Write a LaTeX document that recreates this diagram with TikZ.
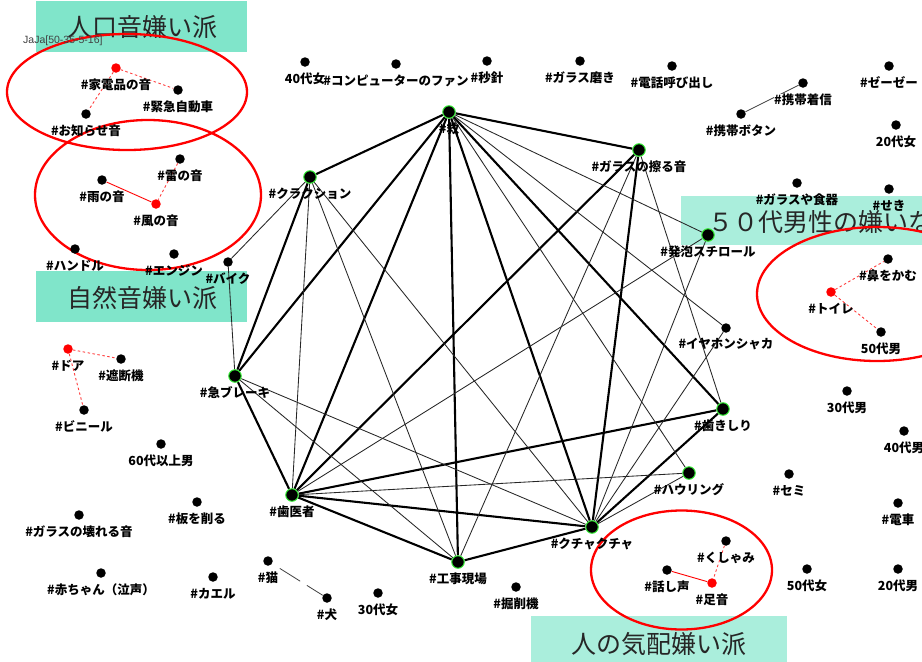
\documentclass[tikz,border=0pt]{standalone}
\usepackage{fontspec}
\setmainfont{Noto Sans CJK JP}
\newfontfamily\latinf{Liberation Sans}
\pgfdeclarelayer{boxes}
\pgfdeclarelayer{edges}
\pgfsetlayers{boxes,edges,main}
\definecolor{tealA}{HTML}{80E5CA}
\definecolor{tealB}{HTML}{AAEEDC}
\definecolor{ringg}{HTML}{33EE33}
\definecolor{dred}{HTML}{FF4040}
\tikzset{
  dot/.style={circle,fill=black,inner sep=0pt,minimum size=9.5pt},
  rdot/.style={dot,fill=red},
  hub/.style={circle,fill=black,draw=ringg,line width=1pt,inner sep=0pt,minimum size=12.5pt},
  lab/.style={inner sep=0pt,font=\fontsize{12.5}{13}\selectfont\bfseries},
  thk/.style={line width=2.1pt,black},
  thn/.style={line width=0.85pt,black!85},
  rdash/.style={dred,line width=0.9pt,dash pattern=on 2.5pt off 2.5pt},
  rsolid/.style={red,line width=0.9pt},
  gline/.style={black!75,line width=0.8pt},
  ell/.style={red,line width=2.3pt},
  bigbox/.style={inner sep=0pt,font=\fontsize{25}{26}\selectfont,text=black!85}
}
\newcommand\mkdot[6][]{\node[#5] (#2) at (#3,#4) {}; \node[lab,#1] (#2l) at (#3,#4+16.5) {#6};}
\begin{document}
\begin{tikzpicture}[x=1pt,y=-1pt]
\useasboundingbox (0,0) rectangle (922,662);
\begin{pgfonlayer}{boxes}
\fill[white] (0,0) rectangle (922,662);
\fill[tealA] (36,1) rectangle (247,52);
\fill[tealA] (36,271) rectangle (247,322);
\fill[tealB] (681,196) rectangle (925,245);
\fill[tealB] (531,616) rectangle (787,665);
\node[bigbox] (t1) at (142,27) {人口音嫌い派};
\node[bigbox] (t2) at (142,298) {自然音嫌い派};
\node[bigbox,anchor=west] (t3) at (708,222) {５０代男性の嫌いな};
\node[bigbox] (t4) at (659,644) {人の気配嫌い派};
\end{pgfonlayer}
\node[inner sep=0pt,anchor=west,text=black!75,font=\latinf\fontsize{10.5}{11}\selectfont] (jaja) at (23,41) {JaJa[50-35-5-16]};
% network hubs
\mkdot{Q}{449}{112}{hub}{\#救}
\mkdot{K}{310}{177}{hub}{\#クラクション}
\mkdot{G}{639}{150}{hub}{\#ガラスの擦る音}
\mkdot{H}{708}{235}{hub}{\#発泡スチロール}
\mkdot{B}{228}{262}{dot}{\#バイク}
\mkdot{I}{726}{328}{dot}{\#イヤホンシャカ}
\mkdot{Y}{235}{376}{hub}{\#急ブレーキ}
\mkdot{S}{723}{409}{hub}{\#歯きしり}
\mkdot{W}{689}{473}{hub}{\#ハウリング}
\mkdot{D}{292}{495}{hub}{\#歯医者}
\mkdot{C}{592}{527}{hub}{\#クチャクチャ}
\mkdot{E}{458}{562}{hub}{\#工事現場}
% other items
\mkdot{kaden}{116}{68}{rdot}{\#家電品の音}
\mkdot{kinkyu}{178}{90}{dot}{\#緊急自動車}
\mkdot{oshirase}{86}{114}{dot}{\#お知らせ音}
\mkdot{kaminari}{180}{159}{dot}{\#雷の音}
\mkdot{ame}{102}{180}{dot}{\#雨の音}
\mkdot{kaze}{156}{204}{rdot}{\#風の音}
\mkdot{handle}{75}{249}{dot}{\#ハンドル}
\mkdot{engine}{174}{254}{dot}{\#エンジン}
\mkdot{door}{68}{349}{rdot}{\#ドア}
\mkdot{shadan}{121}{359}{dot}{\#遮断機}
\mkdot{vinyl}{84}{410}{dot}{\#ビニール}
\mkdot{m60}{161}{444}{dot}{60代以上男}
\mkdot{ita}{197}{502}{dot}{\#板を削る}
\mkdot{garasuk}{79}{515}{dot}{\#ガラスの壊れる音}
\mkdot{baby}{101}{573}{dot}{\#赤ちゃん（泣声）}
\mkdot{kaeru}{213}{577}{dot}{\#カエル}
\mkdot{neko}{268}{561}{dot}{\#猫}
\mkdot{inu}{327}{598}{dot}{\#犬}
\mkdot{f30}{378}{593}{dot}{30代女}
\mkdot{f40}{305}{62}{dot}{40代女}
\mkdot{fan}{396}{64}{dot}{\#コンピューターのファン}
\mkdot{byo}{487}{61}{dot}{\#秒針}
\mkdot{migaki}{580}{61}{dot}{\#ガラス磨き}
\mkdot{denwa}{672}{66}{dot}{\#電話呼び出し}
\mkdot[fill=white]{chakushin}{803}{83}{dot}{\#携帯着信}
\mkdot{button}{741}{114}{dot}{\#携帯ボタン}
\mkdot{zeze}{889}{66}{dot}{\#ゼーゼー}
\mkdot{f20}{896}{125}{dot}{20代女}
\mkdot{shokki}{797}{183}{dot}{\#ガラスや食器}
\mkdot{seki}{889}{189}{dot}{\#せき}
\mkdot{hana}{888}{259}{dot}{\#鼻をかむ}
\mkdot{toilet}{831}{292}{rdot}{\#トイレ}
\mkdot{m50}{881}{332}{dot}{50代男}
\mkdot{m30}{847}{391}{dot}{30代男}
\mkdot{m40}{904}{431}{dot}{40代男}
\mkdot{semi}{789}{474}{dot}{\#セミ}
\mkdot{densha}{898}{503}{dot}{\#電車}
\mkdot{f50}{807}{569}{dot}{50代女}
\mkdot{m20}{898}{569}{dot}{20代男}
\mkdot{kushami}{726}{541}{dot}{\#くしゃみ}
\mkdot{hanashi}{667}{570}{dot}{\#話し声}
\mkdot{ashioto}{712}{583}{rdot}{\#足音}
\mkdot{kussaku}{516}{587}{dot}{\#掘削機}
\begin{pgfonlayer}{edges}
% thick edges
\foreach \a/\b in {Q/K,Q/Y,Q/D,Q/E,Q/C,Q/S,Q/G,K/Y,Y/D,D/G,D/S,D/C,D/E,E/C,C/G,C/S}
  \draw[thk] (\a) -- (\b);
% thin edges
\foreach \a/\b in {Q/W,Q/I,Q/H,K/B,B/Y,K/D,K/E,K/C,G/E,G/S,H/D,H/C,I/C,Y/C,Y/E,D/W,C/W}
  \draw[thn] (\a) -- (\b);
% cluster links
\draw[rdash] (kaden) -- (kinkyu);
\draw[rdash] (kaden) -- (oshirase);
\draw[rsolid] (ame) -- (kaze);
\draw[rdash] (kaminari) -- (kaze);
\draw[rdash] (door) -- (shadan);
\draw[rdash] (door) -- (vinyl);
\draw[rdash] (toilet) -- (hana);
\draw[rdash] (toilet) -- (m50);
\draw[rsolid] (hanashi) -- (ashioto);
\draw[rdash] (kushami) -- (ashioto);
\draw[gline,dash pattern=on 0pt off 9pt on 24pt off 8pt on 60pt] (neko) -- (inu);
\draw[gline] (button) -- (chakushin);
% ellipses
\draw[ell] (127,92) ellipse [x radius=120, y radius=58];
\draw[ell] (148,195) ellipse [x radius=113, y radius=75];
\draw[ell] (877,294) ellipse [x radius=120, y radius=67];
\draw[ell] (681.5,570) ellipse [x radius=90.5, y radius=59.5];
\end{pgfonlayer}
\end{tikzpicture}
\end{document}
